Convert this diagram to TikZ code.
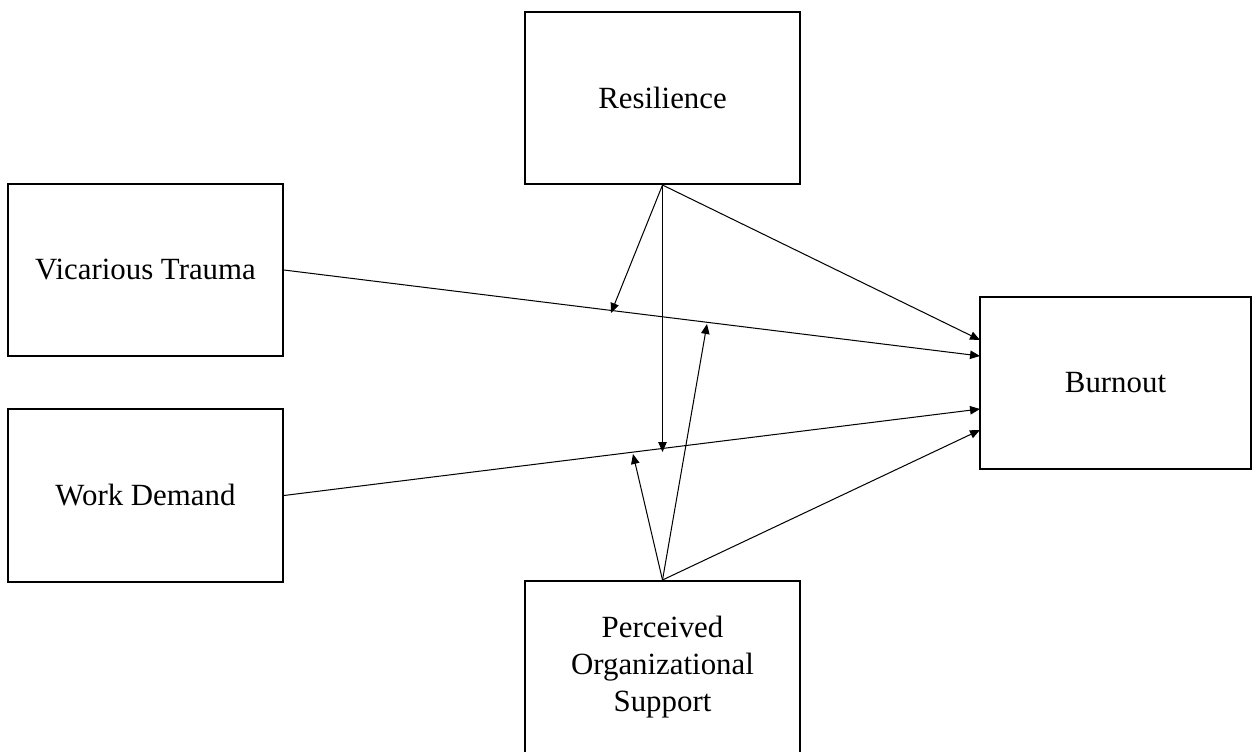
\documentclass[tikz,border=0pt]{standalone}
\usepackage{fontspec}
\setmainfont{Liberation Serif}
\usetikzlibrary{arrows.meta, positioning}

\begin{document}
\begin{tikzpicture}[
    x=0.3922pt, y=-0.3922pt,
    font=\fontsize{12.1}{14.6}\selectfont,
    box/.style={draw, line width=0.75pt, minimum width=107.8pt,
                minimum height=67.5pt, align=center, inner sep=0pt},
    link/.style={-{Triangle[length=3.9pt, width=3.3pt]}, line width=0.4pt}
]
\useasboundingbox (0,0) rectangle (1257,751);

% Variables
\node[box] (res) at (662.5,98) {Resilience};
\node[box] (vt)  at (145.5,270) {Vicarious Trauma};
\node[box] (wd)  at (145.5,495.5) {Work Demand};
\node[box, minimum width=106.3pt] (bo) at (1115.5,383) {Burnout};
\node[box] (pos) at (662.5,667) {Perceived\\Organizational\\Support};

% Arrow ends on Burnout
\coordinate (bo1) at (980,340);
\coordinate (bo2) at (980,356);
\coordinate (bo3) at (980,409);
\coordinate (bo4) at (980,430);

% Moderation ends on the direct paths
\coordinate (m1) at (611,313);
\coordinate (m2) at (662.5,452);
\coordinate (m3) at (633,454);
\coordinate (m4) at (707,324);

% Direct effects
\draw[link] (vt.east) -- (bo2);
\draw[link] (wd.east) -- (bo3);
\draw[link] (res.south) -- (bo1);
\draw[link] (pos.north) -- (bo4);

% Moderators
\draw[link] (res.south) -- (m1);
\draw[link] (res.south) -- (m2);
\draw[link] (pos.north) -- (m3);
\draw[link] (pos.north) -- (m4);
\end{tikzpicture}
\end{document}
